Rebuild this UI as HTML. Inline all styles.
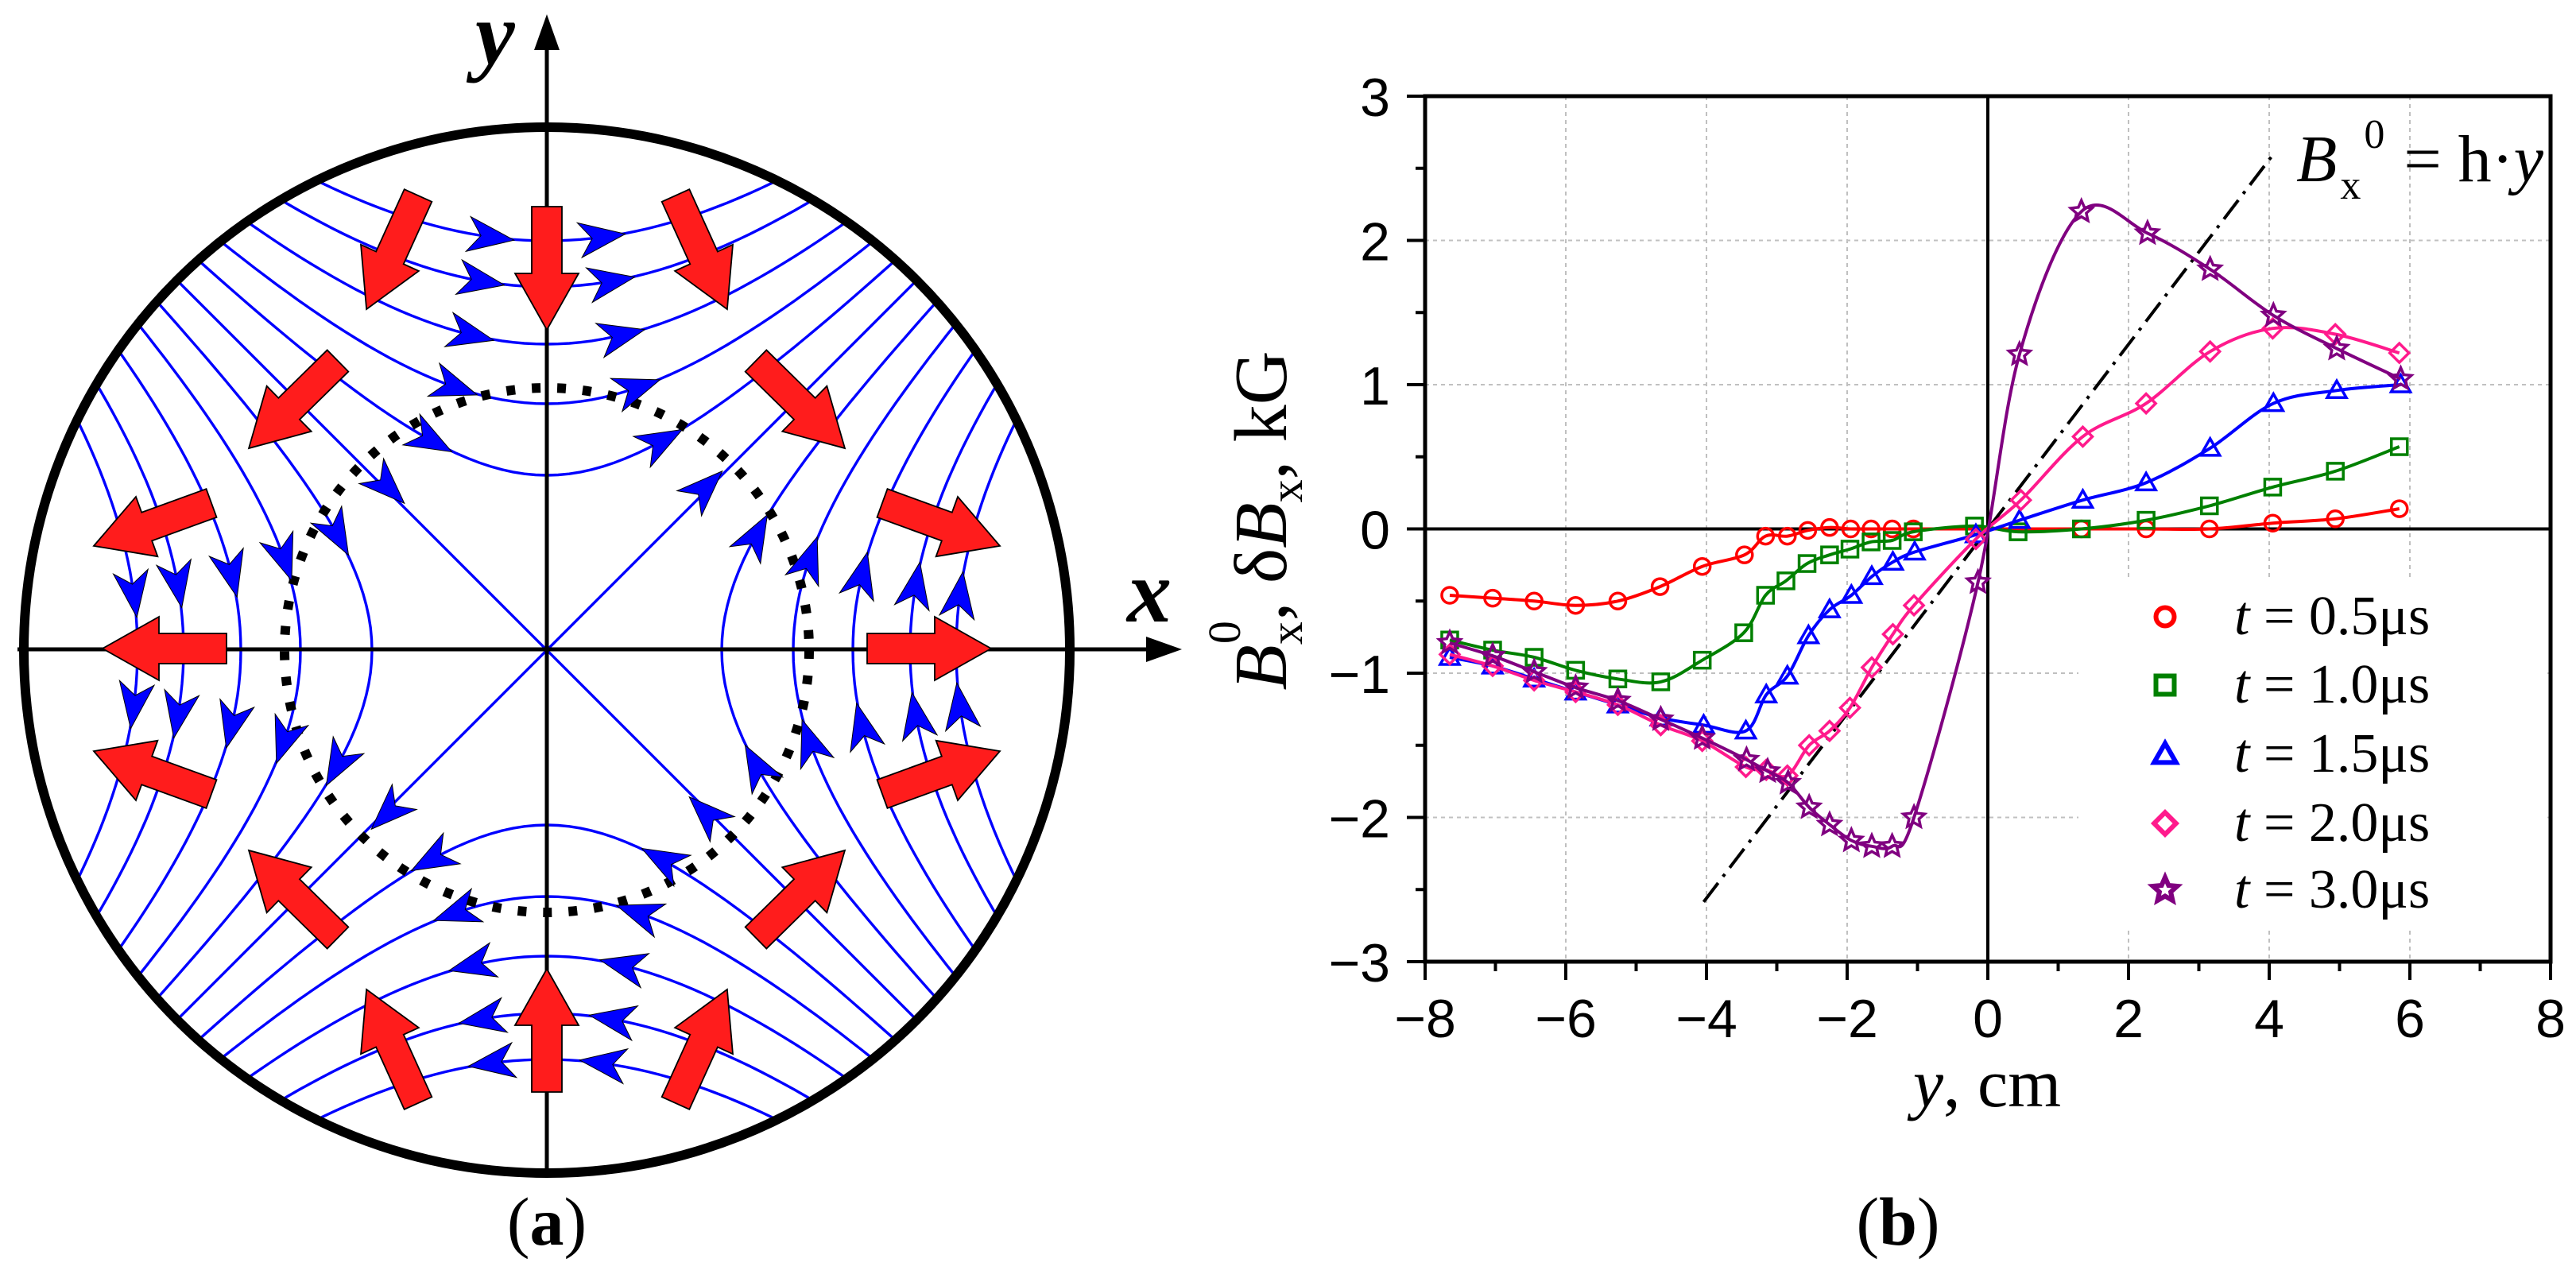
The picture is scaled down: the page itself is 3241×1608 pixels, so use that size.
<!DOCTYPE html>
<html><head><meta charset="utf-8"><style>
html,body{margin:0;padding:0;background:#fff;}
svg{display:block;}
.serif{font-family:"Liberation Serif","DejaVu Serif",serif;}
.sans{font-family:"Liberation Sans","DejaVu Sans",sans-serif;}
</style></head><body>
<svg id="fig" width="3241" height="1608" viewBox="0 0 3241 1608" xmlns="http://www.w3.org/2000/svg">
  <defs><clipPath id="outerClip"><circle cx="688" cy="818" r="655"/></clipPath></defs>
  <g id="panelA">
    <g id="fieldLines" clip-path="url(#outerClip)"></g>
    <circle cx="688" cy="818" r="330" fill="none" stroke="#000" stroke-width="12" stroke-dasharray="11 21"/>
    <g id="blueArrows"></g>
    <line x1="22" y1="817" x2="1450" y2="817" stroke="#000" stroke-width="5"/>
    <polygon points="1487,817 1442,801 1442,833" fill="#000"/>
    <line x1="688" y1="1480" x2="688" y2="55" stroke="#000" stroke-width="5"/>
    <polygon points="688,18 672,63 704,63" fill="#000"/>
    <circle cx="688" cy="818" r="658" fill="none" stroke="#000" stroke-width="12"/>
    <g id="redArrows"></g>
    <text x="1418" y="782" class="serif" font-size="112" font-weight="bold" font-style="italic">x</text>
    <text x="598" y="80" class="serif" font-size="112" font-weight="bold" font-style="italic">y</text>
    <text x="688" y="1566" class="serif" font-size="86" text-anchor="middle">(<tspan font-weight="bold">a</tspan>)</text>
  </g>
  <g id="panelB">
    <g id="grid"></g>
    <rect x="2615" y="730" width="590" height="440" fill="#fff"/>
    <g id="axes"></g>
    <g id="series"></g>
    <g id="legend"></g>
    <text x="2889" y="228" class="serif" font-size="84"><tspan font-style="italic">B</tspan><tspan font-size="52" dx="4" dy="22">x</tspan><tspan font-size="52" dx="4" dy="-64">0</tspan><tspan dx="24" dy="42">= h·</tspan><tspan font-style="italic">y</tspan></text>
    <text class="serif" font-size="94" text-anchor="middle" transform="translate(1618,655) rotate(-90)"><tspan font-style="italic">B</tspan><tspan font-size="58" dy="20">x</tspan><tspan font-size="58" dx="-28" dy="-78">0</tspan><tspan dy="58">, δ</tspan><tspan font-style="italic">B</tspan><tspan font-size="58" dy="20">x</tspan><tspan dy="-20">, kG</tspan></text>
    <text x="2500" y="1392" class="serif" font-size="86" text-anchor="middle"><tspan font-style="italic">y</tspan>, cm</text>
    <text x="2388" y="1566" class="serif" font-size="86" text-anchor="middle">(<tspan font-weight="bold">b</tspan>)</text>
  </g>
</svg>
<script>
// ===== Panel (b) data =====
const xTicks = [-8,-6,-4,-2,0,2,4,6,8];
const xTickLabels = ["\u22128","\u22126","\u22124","\u22122","0","2","4","6","8"];
const yTicks = [-3,-2,-1,0,1,2,3];
const yTickLabels = ["\u22123","\u22122","\u22121","0","1","2","3"];
const xGrid = [-6,-4,-2,2,4,6];
const yGrid = [-2,-1,1,2];
const refSlope = 0.64;
const refRange = [-4.04, 4.09];

const t05X = [-7.65,-7.04,-6.45,-5.86,-5.26,-4.66,-4.06,-3.46,-3.16,-2.85,-2.56,-2.25,-1.95,-1.66,-1.36,-1.06,1.33,2.25,3.15,4.05,4.94,5.85];
const t05Y = [-0.46,-0.48,-0.5,-0.53,-0.5,-0.40,-0.26,-0.18,-0.05,-0.05,-0.01,0.01,0,0,0,0,0,0,0,0.04,0.07,0.14];
const t10X = [-7.65,-7.04,-6.45,-5.86,-5.26,-4.65,-4.06,-3.47,-3.16,-2.87,-2.57,-2.25,-1.96,-1.66,-1.36,-1.06,-0.19,0.43,1.33,2.25,3.15,4.05,4.94,5.85];
const t10Y = [-0.77,-0.84,-0.89,-0.98,-1.04,-1.06,-0.91,-0.72,-0.46,-0.36,-0.24,-0.18,-0.14,-0.09,-0.08,-0.02,0.02,-0.02,0,0.06,0.16,0.29,0.40,0.57];
const t15X = [-7.65,-7.04,-6.45,-5.86,-5.26,-4.65,-4.04,-3.44,-3.15,-2.85,-2.55,-2.25,-1.94,-1.65,-1.35,-1.04,-0.17,0.45,1.35,2.25,3.16,4.06,4.96,5.87];
const t15Y = [-0.89,-0.95,-1.04,-1.13,-1.22,-1.31,-1.36,-1.40,-1.15,-1.02,-0.74,-0.56,-0.46,-0.33,-0.23,-0.16,-0.04,0.06,0.20,0.32,0.56,0.87,0.96,1.0];
const t20X = [-7.65,-7.04,-6.45,-5.86,-5.26,-4.65,-4.06,-3.44,-3.15,-2.85,-2.54,-2.25,-1.96,-1.65,-1.35,-1.05,-0.17,0.47,1.35,2.25,3.16,4.05,4.94,5.85];
const t20Y = [-0.87,-0.95,-1.05,-1.13,-1.22,-1.36,-1.47,-1.65,-1.67,-1.71,-1.5,-1.4,-1.24,-0.96,-0.73,-0.53,-0.07,0.2,0.64,0.87,1.23,1.39,1.35,1.22];
const t30X = [-7.65,-7.04,-6.45,-5.86,-5.26,-4.65,-4.06,-3.43,-3.13,-2.84,-2.54,-2.25,-1.94,-1.65,-1.36,-1.05,-0.14,0.45,1.33,2.27,3.16,4.06,4.96,5.87];
const t30Y = [-0.79,-0.88,-0.99,-1.1,-1.19,-1.32,-1.45,-1.6,-1.68,-1.76,-1.93,-2.05,-2.16,-2.2,-2.2,-2.0,-0.37,1.21,2.2,2.05,1.8,1.48,1.25,1.04];
const legendLabels = ["0.5","1.0","1.5","2.0","3.0"];

const NS = "http://www.w3.org/2000/svg";
function mk(tag, attrs, parent){ const e=document.createElementNS(NS,tag); for(const k in attrs) e.setAttribute(k,attrs[k]); parent.appendChild(e); return e; }

const X0=1793, X1=3209, Y0=121, Y1=1210;
function sx(v){ return X0 + (v+8)/16*(X1-X0); }
function sy(v){ return Y1 - (v+3)/6*(Y1-Y0); }

const gGrid=document.getElementById('grid');
xGrid.forEach(v=>{ const l=mk('line',{x1:sx(v),y1:Y0,x2:sx(v),y2:Y1,stroke:'#c0c0c0','stroke-width':2,'stroke-dasharray':'5 5'},gGrid);
    });
yGrid.forEach(v=>{ const l=mk('line',{x1:X0,y1:sy(v),x2:X1,y2:sy(v),stroke:'#c0c0c0','stroke-width':2,'stroke-dasharray':'5 5'},gGrid);
    });

const gAx=document.getElementById('axes');
const fr=mk('rect',{x:X0,y:Y0,width:X1-X0,height:Y1-Y0,fill:'none',stroke:'#000','stroke-width':5},gAx);
 
const zx=mk('line',{x1:sx(0),y1:Y0,x2:sx(0),y2:Y1,stroke:'#000','stroke-width':4},gAx);
 
const zy=mk('line',{x1:X0,y1:sy(0),x2:X1,y2:sy(0),stroke:'#000','stroke-width':4},gAx);
 
for(let v=-8; v<=8; v+=1){ const major=(v%2===0); const t=mk('line',{x1:sx(v),y1:Y1,x2:sx(v),y2:Y1+(major?23:12),stroke:'#000','stroke-width':4},gAx);
    }
for(let v=-3; v<=3; v+=0.5){ const major=Number.isInteger(v); const t=mk('line',{x1:X0,y1:sy(v),x2:X0-(major?23:12),y2:sy(v),stroke:'#000','stroke-width':4},gAx);
    }
xTicks.forEach((v,i)=>{ const t=mk('text',{x:sx(v),y:1305,'text-anchor':'middle','font-size':68,class:'sans'},gAx); t.textContent=xTickLabels[i];
    });
yTicks.forEach((v,i)=>{ const t=mk('text',{x:1749,y:sy(v)+25,'text-anchor':'end','font-size':68,class:'sans'},gAx); t.textContent=yTickLabels[i];
    });

const gS=document.getElementById('series');
const rl=mk('line',{x1:sx(refRange[0]),y1:sy(refSlope*refRange[0]),x2:sx(refRange[1]),y2:sy(refSlope*refRange[1]),stroke:'#000','stroke-width':4,'stroke-dasharray':'30 10 4 10'},gS);
 

function crPath(xs,ys){
  const P=xs.map((x,i)=>[sx(x),sy(ys[i])]);
  let d='M'+P[0][0].toFixed(1)+','+P[0][1].toFixed(1);
  for(let i=0;i<P.length-1;i++){
    const p0=P[Math.max(0,i-1)],p1=P[i],p2=P[i+1],p3=P[Math.min(P.length-1,i+2)];
    const c1=[p1[0]+(p2[0]-p0[0])/6,p1[1]+(p2[1]-p0[1])/6];
    const c2=[p2[0]-(p3[0]-p1[0])/6,p2[1]-(p3[1]-p1[1])/6];
    d+=' C'+c1[0].toFixed(1)+','+c1[1].toFixed(1)+' '+c2[0].toFixed(1)+','+c2[1].toFixed(1)+' '+p2[0].toFixed(1)+','+p2[1].toFixed(1);
  }
  return d;
}
function markerShape(type,cx,cy,s,color,sw,parent){
  let e;
  if(type==='circle') e=mk('circle',{cx:cx,cy:cy,r:10*s,fill:'none',stroke:color,'stroke-width':sw},parent);
  else if(type==='square') e=mk('rect',{x:cx-10*s,y:cy-10*s,width:20*s,height:20*s,fill:'none',stroke:color,'stroke-width':sw},parent);
  else if(type==='triangle') e=mk('polygon',{points:`${cx},${cy-12*s} ${cx-12*s},${cy+9*s} ${cx+12*s},${cy+9*s}`,fill:'none',stroke:color,'stroke-width':sw},parent);
  else if(type==='diamond') e=mk('polygon',{points:`${cx},${cy-12*s} ${cx+12*s},${cy} ${cx},${cy+12*s} ${cx-12*s},${cy}`,fill:'none',stroke:color,'stroke-width':sw},parent);
  else { let pts=[]; for(let k=0;k<10;k++){ const r=(k%2===0?14:6.5)*s; const a=-Math.PI/2+k*Math.PI/5; pts.push((cx+r*Math.cos(a)).toFixed(1)+','+(cy+r*Math.sin(a)).toFixed(1)); }
    e=mk('polygon',{points:pts.join(' '),fill:'none',stroke:color,'stroke-width':sw},parent); }
  return e;
}
const seriesList=[
  {xs:t05X,ys:t05Y,c:'#ff0000',m:'circle',n:'t-0.5us'},
  {xs:t10X,ys:t10Y,c:'#008000',m:'square',n:'t-1.0us'},
  {xs:t15X,ys:t15Y,c:'#0000ff',m:'triangle',n:'t-1.5us'},
  {xs:t20X,ys:t20Y,c:'#ff1a8c',m:'diamond',n:'t-2.0us'},
  {xs:t30X,ys:t30Y,c:'#800080',m:'star',n:'t-3.0us'}
];
seriesList.forEach(s=>{
  const g=mk('g',{},gS);
   
  const p=mk('path',{d:crPath(s.xs,s.ys),fill:'none',stroke:s.c,'stroke-width':4},g);
   
  s.xs.forEach((x,i)=>{ const e=markerShape(s.m,sx(x),sy(s.ys[i]),1,s.c,3.5,g);
      });
});
const gL=document.getElementById('legend');
const legY=[776,862,949,1036,1120];
seriesList.forEach((s,i)=>{
  const e=markerShape(s.m,2724,legY[i],1.15,s.c,6,gL);
   
  const t=mk('text',{x:2811,y:legY[i]+22,'font-size':70,class:'serif'},gL);
  t.innerHTML='<tspan font-style="italic">t</tspan> = '+legendLabels[i]+'μs';
   
});

// ===== Panel (a) diagram =====
const CX=688, CY=818, R=658;
const apex=[220,310,385,457,515];
const arrowOff=[145,115,95,82,70];
const gF=document.getElementById('fieldLines');
function toS(x,y){ return [CX+x, CY-y]; }
function hyper(a, fam){
  const L=Math.sqrt((R*R+40000)/2)+80; let d='';
  for(let k=0;k<=80;k++){ const u=-L+2*L*k/80; const v=Math.sqrt(a*a+u*u);
    let x,y; if(fam==='top'){x=u;y=v;} else if(fam==='bottom'){x=u;y=-v;} else if(fam==='left'){x=-v;y=u;} else {x=v;y=u;}
    const p=toS(x,y); d+=(k?'L':'M')+p[0].toFixed(1)+','+p[1].toFixed(1); }
  return d;
}
['top','bottom','left','right'].forEach(fam=>{
  apex.forEach(a=>{ const p=mk('path',{d:hyper(a,fam),fill:'none',stroke:'#0000ff','stroke-width':3.4},gF);
      });
});
[[1,1],[1,-1]].forEach(dv=>{ const p1=toS(-R*dv[0],-R*dv[1]), p2=toS(R*dv[0],R*dv[1]);
  const l=mk('line',{x1:p1[0],y1:p1[1],x2:p2[0],y2:p2[1],stroke:'#0000ff','stroke-width':3.4},gF);
    });

const gB=document.getElementById('blueArrows');
function blueHead(x,y){
  const n=Math.hypot(x,y); const dx=y/n, dy=x/n;
  const c=toS(x,y); const ang=Math.atan2(-dy,dx)*180/Math.PI;
  const e=mk('polygon',{points:'29,0 -29,-22 -13,0 -29,22',fill:'#0000ff',stroke:'#000','stroke-width':1,transform:`translate(${c[0].toFixed(1)},${c[1].toFixed(1)}) rotate(${ang.toFixed(1)})`},gB);
   
}
apex.forEach((a,i)=>{ const o=arrowOff[i], v=Math.sqrt(a*a+o*o);
  [-1,1].forEach(s=>{ blueHead(s*o,v); blueHead(s*o,-v); blueHead(-v,s*o); blueHead(v,s*o); });
});
[[-1,1],[1,1],[-1,-1],[1,-1]].forEach(q=>blueHead(q[0]*200,q[1]*205));

const gR=document.getElementById('redArrows');
const redLeft=[[688,260,688,415],[526,246,461,389],[425,454,313,564],[266,633,118,687],[285,816,129,816],[266,999,118,945],[425,1180,313,1070],[526,1388,461,1245],[688,1374,688,1219]];
const redAll=[];
redLeft.forEach(a=>{ redAll.push(a); if(a[0]!==688) redAll.push([1376-a[0],a[1],1376-a[2],a[3]]); });
redAll.forEach(a=>{
  const L=Math.hypot(a[2]-a[0],a[3]-a[1]); const ang=Math.atan2(a[3]-a[1],a[2]-a[0])*180/Math.PI; const h=L-71;
  const e=mk('polygon',{points:`0,-19 ${h},-19 ${h},-40 ${L},0 ${h},40 ${h},19 0,19`,fill:'#ff1c1c',stroke:'#000','stroke-width':1.8,'stroke-linejoin':'miter',transform:`translate(${a[0]},${a[1]}) rotate(${ang.toFixed(1)})`},gR);
   
});
</script>
</body></html>
